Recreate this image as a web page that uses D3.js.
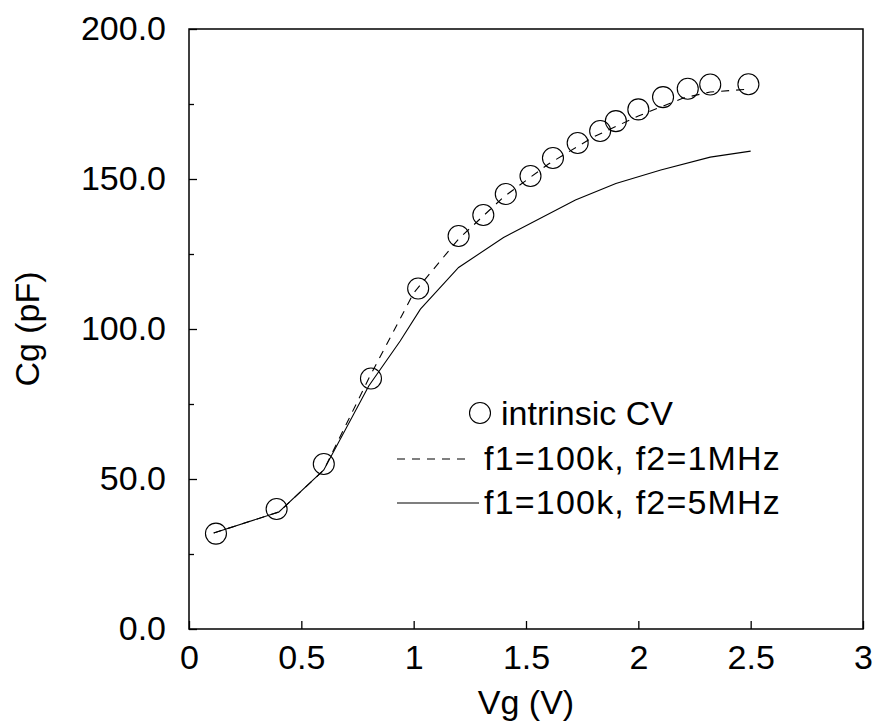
<!DOCTYPE html>
<html>
<head>
<meta charset="utf-8">
<script src="https://cdn.jsdelivr.net/npm/d3@7"></script>
<style>
  body { margin: 0; background: #fff; }
  text { font-family: "Liberation Sans", Arial, sans-serif; fill: #000; }
</style>
</head>
<body>
<div id="chart"></div>
<script>
////////////////////////////////////////////////////
// data
////////////////////////////////////////////////////
var cvVg = [0.12, 0.39, 0.60, 0.81, 1.02, 1.20, 1.31, 1.41, 1.52, 1.62, 1.73, 1.83, 1.90, 2.00, 2.11, 2.22, 2.32, 2.49];
var cvCg = [31.8, 40.0, 55.0, 83.5, 113.5, 131.0, 138.0, 145.0, 151.0, 157.0, 162.0, 166.0, 169.3, 173.2, 177.3, 180.1, 181.5, 181.6];

var f1Vg = [0.11, 0.40, 0.60, 0.80, 1.00, 1.20, 1.40, 1.60, 1.80, 2.00, 2.20, 2.32, 2.50];
var f1Cg = [32.0, 39.0, 53.0, 83.5, 112.0, 130.0, 144.0, 155.0, 164.0, 171.0, 177.0, 179.0, 180.0];

var f5Vg = [0.11, 0.40, 0.60, 0.80, 0.94, 1.03, 1.20, 1.40, 1.72, 1.90, 2.10, 2.32, 2.50];
var f5Cg = [32.0, 39.0, 53.0, 81.0, 96.0, 106.6, 120.5, 130.5, 143.0, 148.5, 153.0, 157.3, 159.3];

var xTicks = [0, 0.5, 1, 1.5, 2, 2.5, 3];
var xTickLabels = ["0", "0.5", "1", "1.5", "2", "2.5", "3"];
var yTicks = [0, 50, 100, 150, 200];
var yMinorTicks = [25, 75, 125, 175];
var legendLabels = ["intrinsic CV", "f1=100k, f2=1MHz", "f1=100k, f2=5MHz"];
////////////////////////////////////////////////////

function buildCgChart(theId) {
	var W = 875, H = 723;
	var mLeft = 189, mRight = 863, mTop = 29, mBottom = 629;
	var fs = 34;

	var svg = d3.select("#" + theId).append("svg")
		.attr("width", W)
		.attr("height", H);

	var x = d3.scaleLinear().domain([0, 3]).range([mLeft, mRight]);
	var y = d3.scaleLinear().domain([0, 200]).range([mBottom, mTop]);

	// frame
	svg.append("rect")
		.attr("x", mLeft).attr("y", mTop)
		.attr("width", mRight - mLeft).attr("height", mBottom - mTop)
		.attr("fill", "none").attr("stroke", "#000").attr("stroke-width", 1.5);

	// x axis, ticks pointing in
	var xAxis = d3.axisBottom(x)
		.tickValues(xTicks)
		.tickFormat(function(d, i) { return xTickLabels[i]; })
		.tickSizeInner(-8).tickSizeOuter(0).tickPadding(16);
	var gx = svg.append("g").attr("transform", "translate(0," + mBottom + ")").call(xAxis);
	gx.select(".domain").remove();
	gx.selectAll("line").attr("stroke", "#000").attr("stroke-width", 1.3);
	gx.selectAll("text").attr("font-size", fs).attr("font-family", "Liberation Sans, Arial, sans-serif");

	// y axis
	var yAxis = d3.axisLeft(y)
		.tickValues(yTicks)
		.tickFormat(d3.format(".1f"))
		.tickSizeInner(-8).tickSizeOuter(0).tickPadding(23);
	var gy = svg.append("g").attr("transform", "translate(" + mLeft + ",0)").call(yAxis);
	gy.select(".domain").remove();
	gy.selectAll("line").attr("stroke", "#000").attr("stroke-width", 1.3);
	gy.selectAll("text").attr("font-size", fs).attr("font-family", "Liberation Sans, Arial, sans-serif");

	var yMinor = d3.axisLeft(y).tickValues(yMinorTicks).tickFormat("").tickSizeInner(-5).tickSizeOuter(0);
	var gym = svg.append("g").attr("transform", "translate(" + mLeft + ",0)").call(yMinor);
	gym.select(".domain").remove();
	gym.selectAll("line").attr("stroke", "#000").attr("stroke-width", 1.3);

	// axis titles
	svg.append("text")
		.attr("x", (mLeft + mRight) / 2).attr("y", 714)
		.attr("text-anchor", "middle").attr("font-size", fs)
		.text("Vg (V)");
	svg.append("text")
		.attr("transform", "translate(39," + ((mTop + mBottom) / 2) + ") rotate(-90)")
		.attr("text-anchor", "middle").attr("font-size", fs)
		.text("Cg (pF)");

	// curves
	var line = d3.line()
		.x(function(d) { return x(d[0]); })
		.y(function(d) { return y(d[1]); });

	svg.append("path")
		.datum(d3.zip(f5Vg, f5Cg))
		.attr("d", line)
		.attr("fill", "none").attr("stroke", "#000").attr("stroke-width", 1.1);

	svg.append("path")
		.datum(d3.zip(f1Vg, f1Cg))
		.attr("d", line)
		.attr("fill", "none").attr("stroke", "#000").attr("stroke-width", 1.1)
		.attr("stroke-dasharray", "8,7");

	// circles
	svg.append("g").selectAll("circle")
		.data(d3.zip(cvVg, cvCg))
		.enter().append("circle")
			.attr("cx", function(d) { return x(d[0]); })
			.attr("cy", function(d) { return y(d[1]); })
			.attr("r", 10.5)
			.attr("fill", "none").attr("stroke", "#000").attr("stroke-width", 1.1);

	// legend
	var lg = svg.append("g");
	lg.append("circle").attr("cx", 480).attr("cy", 413).attr("r", 10.5)
		.attr("fill", "none").attr("stroke", "#000").attr("stroke-width", 1.1);
	lg.append("text").attr("x", 501).attr("y", 425).attr("font-size", fs).text(legendLabels[0]);

	lg.append("line").attr("x1", 397).attr("x2", 472).attr("y1", 459).attr("y2", 459)
		.attr("stroke", "#000").attr("stroke-width", 1.1).attr("stroke-dasharray", "8,7");
	lg.append("text").attr("x", 484).attr("y", 470).attr("font-size", fs)
		.attr("letter-spacing", 1.2).text(legendLabels[1]);

	lg.append("line").attr("x1", 397).attr("x2", 479).attr("y1", 503).attr("y2", 503)
		.attr("stroke", "#000").attr("stroke-width", 1.1);
	lg.append("text").attr("x", 484).attr("y", 514).attr("font-size", fs)
		.attr("letter-spacing", 1.2).text(legendLabels[2]);
}

buildCgChart("chart");
</script>
</body>
</html>
